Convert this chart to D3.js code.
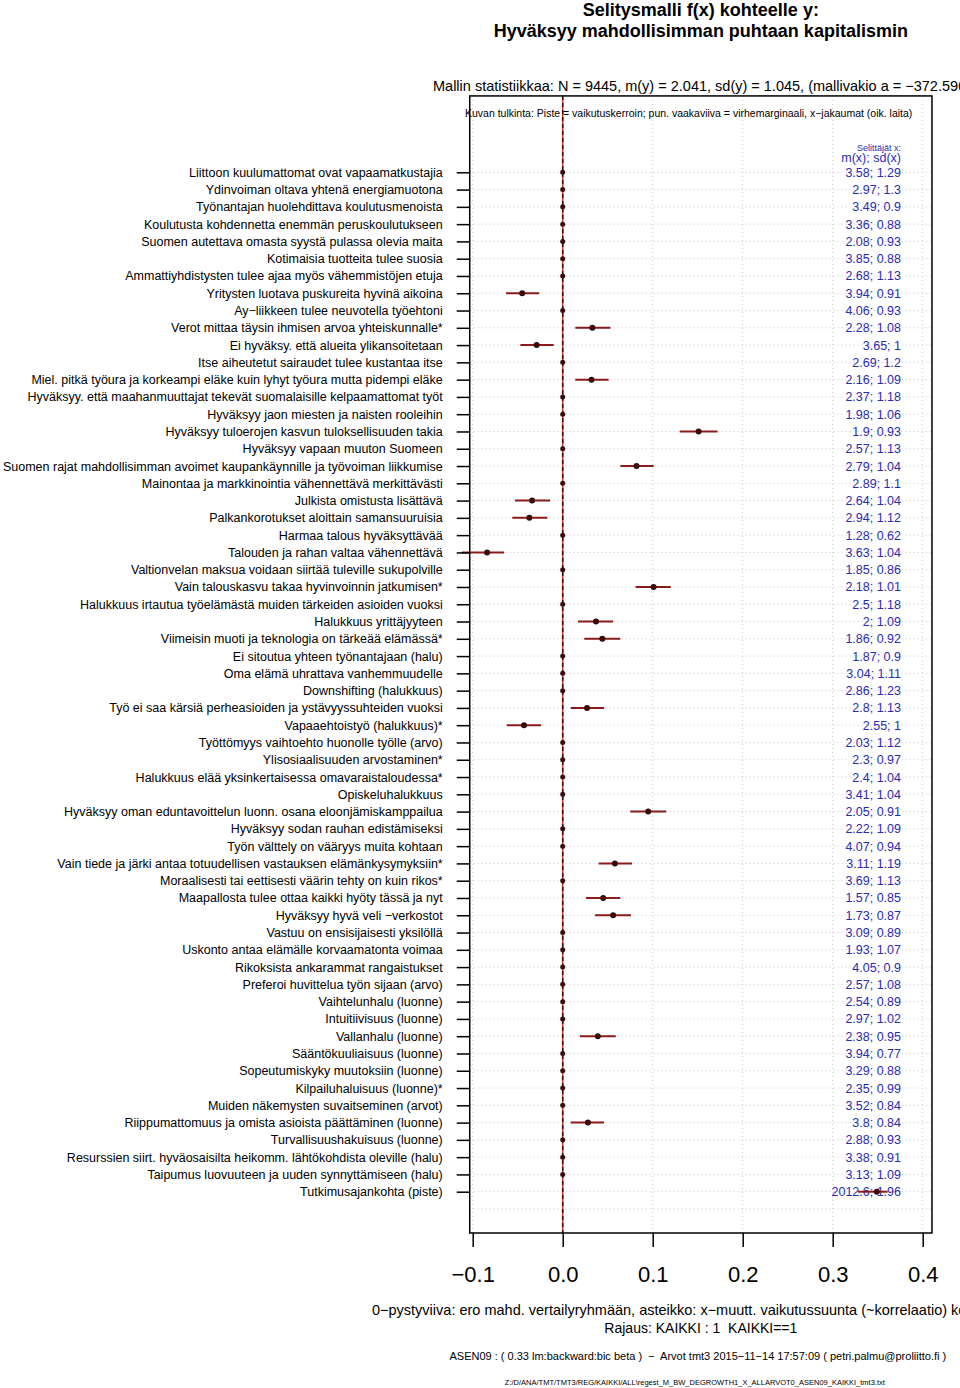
<!DOCTYPE html>
<html>
<head>
<meta charset="utf-8">
<script src="https://cdn.jsdelivr.net/npm/d3@7"></script>
<style>
  body { margin: 0; background: #fff; }
  svg { display: block; }
</style>
</head>
<body>
<div id="chart"></div>
<script>
const labels = [
  "Liittoon kuulumattomat ovat vapaamatkustajia",
  "Ydinvoiman oltava yhtenä energiamuotona",
  "Työnantajan huolehdittava koulutusmenoista",
  "Koulutusta kohdennetta enemmän peruskoulutukseen",
  "Suomen autettava omasta syystä pulassa olevia maita",
  "Kotimaisia tuotteita tulee suosia",
  "Ammattiyhdistysten tulee ajaa myös vähemmistöjen etuja",
  "Yritysten luotava puskureita hyvinä aikoina",
  "Ay−liikkeen tulee neuvotella työehtoni",
  "Verot mittaa täysin ihmisen arvoa yhteiskunnalle*",
  "Ei hyväksy. että alueita ylikansoitetaan",
  "Itse aiheutetut sairaudet tulee kustantaa itse",
  "Miel. pitkä työura ja korkeampi eläke kuin lyhyt työura mutta pidempi eläke",
  "Hyväksyy. että maahanmuuttajat tekevät suomalaisille kelpaamattomat työt",
  "Hyväksyy jaon miesten ja naisten rooleihin",
  "Hyväksyy tuloerojen kasvun tuloksellisuuden takia",
  "Hyväksyy vapaan muuton Suomeen",
  "Suomen rajat mahdollisimman avoimet kaupankäynnille ja työvoiman liikkumise",
  "Mainontaa ja markkinointia vähennettävä merkittävästi",
  "Julkista omistusta lisättävä",
  "Palkankorotukset aloittain samansuuruisia",
  "Harmaa talous hyväksyttävää",
  "Talouden ja rahan valtaa vähennettävä",
  "Valtionvelan maksua voidaan siirtää tuleville sukupolville",
  "Vain talouskasvu takaa hyvinvoinnin jatkumisen*",
  "Halukkuus irtautua työelämästä muiden tärkeiden asioiden vuoksi",
  "Halukkuus yrittäjyyteen",
  "Viimeisin muoti ja teknologia on tärkeää elämässä*",
  "Ei sitoutua yhteen työnantajaan (halu)",
  "Oma elämä uhrattava vanhemmuudelle",
  "Downshifting (halukkuus)",
  "Työ ei saa kärsiä perheasioiden ja ystävyyssuhteiden vuoksi",
  "Vapaaehtoistyö (halukkuus)*",
  "Työttömyys vaihtoehto huonolle työlle (arvo)",
  "Ylisosiaalisuuden arvostaminen*",
  "Halukkuus elää yksinkertaisessa omavaraistaloudessa*",
  "Opiskeluhalukkuus",
  "Hyväksyy oman eduntavoittelun luonn. osana eloonjämiskamppailua",
  "Hyväksyy sodan rauhan edistämiseksi",
  "Työn välttely on vääryys muita kohtaan",
  "Vain tiede ja järki antaa totuudellisen vastauksen elämänkysymyksiin*",
  "Moraalisesti tai eettisesti väärin tehty on kuin rikos*",
  "Maapallosta tulee ottaa kaikki hyöty tässä ja nyt",
  "Hyväksyy hyvä veli −verkostot",
  "Vastuu on ensisijaisesti yksilöllä",
  "Uskonto antaa elämälle korvaamatonta voimaa",
  "Rikoksista ankarammat rangaistukset",
  "Preferoi huvittelua työn sijaan (arvo)",
  "Vaihtelunhalu (luonne)",
  "Intuitiivisuus (luonne)",
  "Vallanhalu (luonne)",
  "Sääntökuuliaisuus (luonne)",
  "Sopeutumiskyky muutoksiin (luonne)",
  "Kilpailuhaluisuus (luonne)*",
  "Muiden näkemysten suvaitseminen (arvot)",
  "Riippumattomuus ja omista asioista päättäminen (luonne)",
  "Turvallisuushakuisuus (luonne)",
  "Resurssien siirt. hyväosaisilta heikomm. lähtökohdista oleville (halu)",
  "Taipumus luovuuteen ja uuden synnyttämiseen (halu)",
  "Tutkimusajankohta (piste)"
];

// vaikutuskerroin ja virhemarginaali (0 = ei mallissa)
const coef = [0, 0, 0, 0, 0, 0, 0, -0.045, 0, 0.033,
  -0.029, 0, 0.032, 0, 0, 0.151, 0, 0.082, 0, -0.034,
  -0.037, 0, -0.084, 0, 0.101, 0, 0.037, 0.044, 0, 0,
  0, 0.027, -0.043, 0, 0, 0, 0, 0.095, 0, 0,
  0.058, 0, 0.045, 0.056, 0, 0, 0, 0, 0, 0,
  0.039, 0, 0, 0, 0, 0.028, 0, 0, 0, 0.349];
const lo = [0, 0, 0, 0, 0, 0, 0, -0.063, 0, 0.014,
  -0.047, 0, 0.014, 0, 0, 0.130, 0, 0.064, 0, -0.053,
  -0.056, 0, -0.112, 0, 0.081, 0, 0.017, 0.024, 0, 0,
  0, 0.009, -0.062, 0, 0, 0, 0, 0.075, 0, 0,
  0.040, 0, 0.026, 0.036, 0, 0, 0, 0, 0, 0,
  0.019, 0, 0, 0, 0, 0.009, 0, 0, 0, 0.328];
const hi = [0, 0, 0, 0, 0, 0, 0, -0.026, 0, 0.053,
  -0.010, 0, 0.051, 0, 0, 0.172, 0, 0.101, 0, -0.014,
  -0.017, 0, -0.065, 0, 0.120, 0, 0.056, 0.064, 0, 0,
  0, 0.046, -0.024, 0, 0, 0, 0, 0.115, 0, 0,
  0.077, 0, 0.064, 0.076, 0, 0, 0, 0, 0, 0,
  0.059, 0, 0, 0, 0, 0.046, 0, 0, 0, 0.361];

const mx = ["3.58", "2.97", "3.49", "3.36", "2.08", "3.85", "2.68", "3.94", "4.06", "2.28",
  "3.65", "2.69", "2.16", "2.37", "1.98", "1.9", "2.57", "2.79", "2.89", "2.64",
  "2.94", "1.28", "3.63", "1.85", "2.18", "2.5", "2", "1.86", "1.87", "3.04",
  "2.86", "2.8", "2.55", "2.03", "2.3", "2.4", "3.41", "2.05", "2.22", "4.07",
  "3.11", "3.69", "1.57", "1.73", "3.09", "1.93", "4.05", "2.57", "2.54", "2.97",
  "2.38", "3.94", "3.29", "2.35", "3.52", "3.8", "2.88", "3.38", "3.13", "2012.6"];
const sdx = ["1.29", "1.3", "0.9", "0.88", "0.93", "0.88", "1.13", "0.91", "0.93", "1.08",
  "1", "1.2", "1.09", "1.18", "1.06", "0.93", "1.13", "1.04", "1.1", "1.04",
  "1.12", "0.62", "1.04", "0.86", "1.01", "1.18", "1.09", "0.92", "0.9", "1.11",
  "1.23", "1.13", "1", "1.12", "0.97", "1.04", "1.04", "0.91", "1.09", "0.94",
  "1.19", "1.13", "0.85", "0.87", "0.89", "1.07", "0.9", "1.08", "0.89", "1.02",
  "0.95", "0.77", "0.88", "0.99", "0.84", "0.84", "0.93", "0.91", "1.09", "1.96"];

const xTicks = [-0.1, 0, 0.1, 0.2, 0.3, 0.4];

const width = 960, height = 1388;
const fontFamily = "'Liberation Sans', Arial, Helvetica, sans-serif";
const red = "#8b1a1a";
const blue = "#2b2bb0";

const rows = labels.map((d, i) => ({
  i: i + 1, label: d, coef: coef[i], lo: lo[i], hi: hi[i], m: mx[i], sd: sdx[i]
}));

const svg = d3.select("#chart")
  .append("svg")
  .attr("width", width)
  .attr("height", height)
  .style("font-family", fontFamily);

const xScale = d3.scaleLinear().domain([-0.1, 0.4]).range([472.7, 922.7]);
const yScale = d3.scaleLinear().domain([1, labels.length]).range([172.3, 1191.7]);

const boxLeft = xScale(-0.1033), boxRight = xScale(0.4103);
const boxTop = yScale(-3.42), boxBottom = yScale(labels.length + 2.39);
const midX = (boxLeft + boxRight) / 2;

// otsikot
svg.append("text")
  .attr("x", midX).attr("y", 16)
  .attr("text-anchor", "middle")
  .style("font-size", "18px").style("font-weight", "bold")
  .text("Selitysmalli f(x) kohteelle y:");
svg.append("text")
  .attr("x", midX).attr("y", 37)
  .attr("text-anchor", "middle")
  .style("font-size", "18px").style("font-weight", "bold")
  .text("Hyväksyy mahdollisimman puhtaan kapitalismin");
svg.append("text")
  .attr("x", 433).attr("y", 91)
  .style("font-size", "14.5px")
  .text("Mallin statistiikkaa: N = 9445, m(y) = 2.041, sd(y) = 1.045, (mallivakio a = −372.596)");

// ruudukko
const grid = svg.append("g");
grid.selectAll("line.v")
  .data(xTicks.filter(d => d !== 0))
  .enter().append("line")
  .attr("class", "v")
  .attr("x1", d => xScale(d)).attr("x2", d => xScale(d))
  .attr("y1", boxTop).attr("y2", boxBottom)
  .style("stroke", "#c8c8c8").style("stroke-dasharray", "1,3");
grid.selectAll("line.h")
  .data(d3.range(1, labels.length + 2))
  .enter().append("line")
  .attr("class", "h")
  .attr("x1", boxLeft).attr("x2", boxRight)
  .attr("y1", d => yScale(d)).attr("y2", d => yScale(d))
  .style("stroke", "#c8c8c8").style("stroke-dasharray", "1,3");

svg.append("text")
  .attr("x", 465).attr("y", 117)
  .style("font-size", "10.5px")
  .text("Kuvan tulkinta: Piste = vaikutuskerroin; pun. vaakaviiva = virhemarginaali, x−jakaumat (oik. laita)");

// 0-viiva
svg.append("line")
  .attr("x1", xScale(0)).attr("x2", xScale(0))
  .attr("y1", boxTop).attr("y2", boxBottom)
  .style("stroke", "#c0392b").style("stroke-width", 1.5);
svg.append("line")
  .attr("x1", xScale(0)).attr("x2", xScale(0))
  .attr("y1", boxTop).attr("y2", boxBottom)
  .style("stroke", "#4a0000").style("stroke-width", 1.5)
  .style("stroke-dasharray", "4,3");

// x-jakaumat
svg.append("text")
  .attr("x", 901).attr("y", 151)
  .attr("text-anchor", "end")
  .style("font-size", "9px").style("fill", blue)
  .text("Selittäjät x:");
svg.append("text")
  .attr("x", 901).attr("y", 162)
  .attr("text-anchor", "end")
  .style("font-size", "12.5px").style("fill", blue)
  .text("m(x); sd(x)");
svg.append("g").selectAll("text")
  .data(rows)
  .enter().append("text")
  .attr("x", 901).attr("y", d => yScale(d.i))
  .attr("dy", "0.36em")
  .attr("text-anchor", "end")
  .style("font-size", "12.5px").style("fill", blue)
  .text(d => d.m + "; " + d.sd);

// virhemarginaalit ja pisteet
const marks = svg.append("g");
marks.selectAll("line")
  .data(rows.filter(d => d.coef !== 0))
  .enter().append("line")
  .attr("x1", d => xScale(d.lo)).attr("x2", d => xScale(d.hi))
  .attr("y1", d => yScale(d.i)).attr("y2", d => yScale(d.i))
  .style("stroke", red).style("stroke-width", 2);
marks.selectAll("circle")
  .data(rows)
  .enter().append("circle")
  .attr("cx", d => xScale(d.coef)).attr("cy", d => yScale(d.i))
  .attr("r", d => d.coef === 0 ? 2.5 : 3)
  .style("fill", "#3a0a0a");

// laatikko
svg.append("rect")
  .attr("x", boxLeft).attr("y", boxTop)
  .attr("width", boxRight - boxLeft).attr("height", boxBottom - boxTop)
  .style("fill", "none").style("stroke", "#000").style("stroke-width", 1.5);

// akselit
const yAxis = d3.axisLeft(yScale)
  .tickValues(rows.map(d => d.i))
  .tickFormat(i => labels[i - 1])
  .tickSize(13)
  .tickPadding(14);
const gy = svg.append("g")
  .attr("transform", "translate(" + boxLeft + ",0)")
  .call(yAxis);
gy.select(".domain").remove();
gy.selectAll("line").style("stroke-width", 1.5);
gy.selectAll("text").style("font-size", "12.5px").style("font-family", fontFamily).style("fill", "#000");

const xAxis = d3.axisBottom(xScale)
  .tickValues(xTicks)
  .tickFormat(d3.format(".1f"))
  .tickSize(14)
  .tickPadding(19);
const gx = svg.append("g")
  .attr("transform", "translate(0," + boxBottom + ")")
  .call(xAxis);
gx.select(".domain").remove();
gx.selectAll("line").style("stroke-width", 1.5);
gx.selectAll("text").style("font-size", "22px").style("font-family", fontFamily).style("fill", "#000");

// alaosan tekstit
svg.append("text")
  .attr("x", 372).attr("y", 1315)
  .style("font-size", "14.5px")
  .text("0−pystyviiva: ero mahd. vertailyryhmään, asteikko: x−muutt. vaikutussuunta (~korrelaatio) kohteeseen");
svg.append("text")
  .attr("x", midX).attr("y", 1333)
  .attr("text-anchor", "middle")
  .style("font-size", "14px")
  .style("white-space", "pre")
  .text("Rajaus: KAIKKI : 1  KAIKKI==1");
svg.append("text")
  .attr("x", midX - 3).attr("y", 1360)
  .attr("text-anchor", "middle")
  .style("font-size", "11px")
  .style("white-space", "pre")
  .text("ASEN09 : ( 0.33 lm:backward:bic beta )  −  Arvot tmt3 2015−11−14 17:57:09 ( petri.palmu@proliitto.fi )");
svg.append("text")
  .attr("x", midX - 6).attr("y", 1385)
  .attr("text-anchor", "middle")
  .style("font-size", "7.5px")
  .text("Z:/D/ANA/TMT/TMT3/REG/KAIKKI/ALL\\regest_M_BW_DEGROWTH1_X_ALLARVOT0_ASEN09_KAIKKI_tmt3.txt");
</script>
</body>
</html>
